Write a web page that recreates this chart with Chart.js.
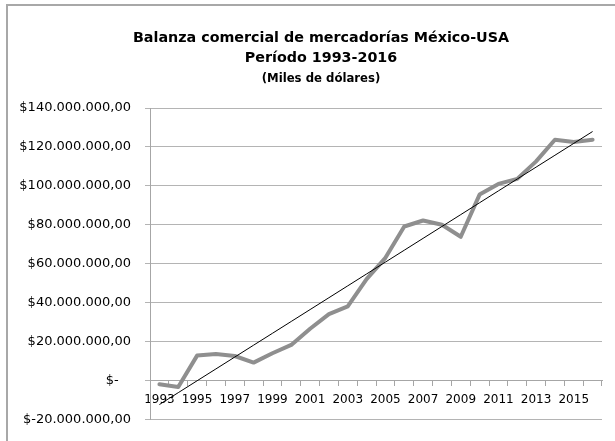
<!DOCTYPE html>
<html>
<head>
<meta charset="utf-8">
<script src="https://cdn.jsdelivr.net/npm/chart.js@4.4.0/dist/chart.umd.min.js"></script>
<style>
  html, body { margin: 0; padding: 0; background: #fff; }
  #wrap { position: relative; width: 615px; height: 441px; overflow: hidden; }
  #frame {
    position: absolute; left: 6px; top: 4px; width: 700px; height: 600px;
    border-left: 2px solid #a8a8a8; border-top: 2px solid #a8a8a8;
    pointer-events: none;
  }
  canvas { position: absolute; left: 0; top: 0; }
</style>
</head>
<body>
<div id="wrap">
  <div id="frame"></div>
  <canvas id="balanza" width="615" height="441"></canvas>
</div>
<script>
// ── Data (miles de dólares) ────────────────────────────────────────
const years = ["1993","1994","1995","1996","1997","1998","1999","2000",
               "2001","2002","2003","2004","2005","2006","2007","2008",
               "2009","2010","2011","2012","2013","2014","2015","2016"];

const balanza = [
  -2.0e6, -3.4e6, 12.7e6, 13.5e6, 12.5e6, 9.1e6, 13.9e6, 18.2e6,
  26.5e6, 34.0e6, 38.0e6, 52.0e6, 63.0e6, 79.1e6, 82.2e6, 80.0e6,
  73.8e6, 95.5e6, 101.0e6, 103.6e6, 112.6e6, 123.7e6, 122.6e6, 123.7e6,
];

const yTicks = { min: -20e6, max: 140e6, step: 20e6 };

// ── Linear trendline (least squares, like Excel) ───────────────────
function linearTrend(vals) {
  const n = vals.length;
  const mx = (n - 1) / 2;
  const my = vals.reduce((a, b) => a + b, 0) / n;
  let sxy = 0, sxx = 0;
  vals.forEach((v, i) => { sxy += (i - mx) * (v - my); sxx += (i - mx) ** 2; });
  const b = sxy / sxx;
  return vals.map((_, i) => my + b * (i - mx));
}

// $140.000.000,00 style
function money(v) {
  if (v === 0) return "$-   ";
  const s = Math.abs(v).toFixed(0).replace(/\B(?=(\d{3})+(?!\d))/g, ".");
  return "$" + (v < 0 ? "-" : "") + s + ",00";
}

const GRID = "#b4b4b4";
const AXIS = "#a6a6a6";
const FONT = "'DejaVu Sans', sans-serif";

// title block sits a bit right of the canvas centre in the original
const shiftTitles = {
  id: "shiftTitles",
  afterLayout(chart) {
    chart.boxes.forEach(b => {
      if (b.options && b.options.text !== undefined && b.position === "top") {
        b.left += 20;
        b.right += 20;
      }
    });
  },
};

new Chart(document.getElementById("balanza"), {
  type: "line",
  data: {
    labels: years,
    datasets: [
      {
        data: balanza,
        borderColor: "#8f8f8f",
        borderWidth: 4,
        pointRadius: 0,
        borderJoinStyle: "round",
        borderCapStyle: "round",
        tension: 0,
        order: 2,
      },
      {
        data: linearTrend(balanza),
        borderColor: "#000",
        borderWidth: 1,
        pointRadius: 0,
        tension: 0,
        order: 1,
      },
    ],
  },
  plugins: [shiftTitles],
  options: {
    responsive: false,
    animation: false,
    events: [],
    layout: { padding: { left: 0, right: 13, top: 0, bottom: 0 } },
    plugins: {
      legend: { display: false },
      tooltip: { enabled: false },
      title: {
        display: true,
        text: ["Balanza comercial de mercadorías México-USA", "Período 1993-2016"],
        color: "#000",
        font: { family: FONT, size: 14.3, weight: "bold", lineHeight: 1.4 },
        padding: { top: 28, bottom: 4 },
      },
      subtitle: {
        display: true,
        text: "(Miles de dólares)",
        color: "#000",
        font: { family: FONT, size: 11.7, weight: "bold", lineHeight: 1.2 },
        padding: { top: 0, bottom: 22 },
      },
    },
    scales: {
      x: {
        type: "category",
        position: { y: 0 },
        offset: true,
        afterFit: s => { s.height = 20; },
        grid: {
          offset: true,
          drawOnChartArea: false,
          drawTicks: true,
          tickLength: 5,
          color: AXIS,
        },
        border: { display: true, color: AXIS, width: 1 },
        ticks: {
          autoSkip: false,
          maxRotation: 0,
          padding: 7,
          color: "#000",
          font: { family: FONT, size: 12 },
          callback: (v, i) => (i % 2 === 0 ? years[i] : ""),
        },
      },
      y: {
        min: yTicks.min,
        max: yTicks.max,
        afterFit: s => { s.width = 150; },
        grid: { color: GRID, lineWidth: 1, tickLength: 5 },
        border: { display: true, color: AXIS, width: 1 },
        ticks: {
          stepSize: yTicks.step,
          padding: 14,
          color: "#000",
          font: { family: FONT, size: 13 },
          callback: v => money(v),
        },
      },
    },
  },
});
</script>
</body>
</html>
